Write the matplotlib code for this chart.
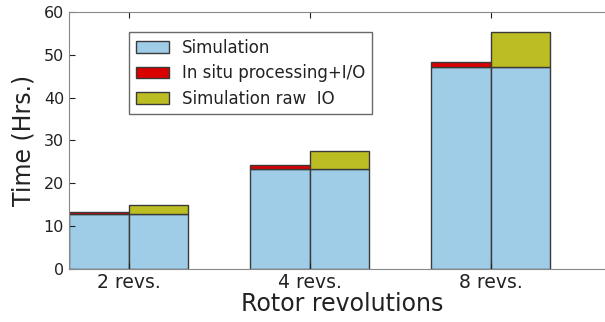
import matplotlib
matplotlib.use("Agg")
import matplotlib.pyplot as plt
import numpy as np

groups = ["2 revs.", "4 revs.", "8 revs."]
simulation = [12.9, 23.45, 47.1]
insitu = [0.4, 0.85, 1.15]
raw_io = [2.0, 4.2, 8.1]

sim_color = "#9fcde8"
insitu_color = "#d90000"
raw_color = "#bcbd22"
edge = "#3a3a3a"
text_color = "#222222"

fig = plt.figure(figsize=(6.05, 3.22), dpi=100)
ax = fig.add_axes([0.114, 0.1637, 0.9025, 0.8])

x = np.arange(len(groups))
w = 0.33

# left bar: simulation + in situ
ax.bar(x - w, simulation, w, align="edge", color=sim_color, edgecolor=edge,
       linewidth=1, label="Simulation")
ax.bar(x - w, insitu, w, bottom=simulation, align="edge", color=insitu_color,
       edgecolor=edge, linewidth=1, label="In situ processing+I/O")
# right bar: simulation + raw IO
ax.bar(x, simulation, w, align="edge", color=sim_color, edgecolor=edge, linewidth=1)
ax.bar(x, raw_io, w, bottom=simulation, align="edge", color=raw_color,
       edgecolor=edge, linewidth=1, label="Simulation raw  IO")

ax.set_xlim(-0.33, 2.687)
ax.set_ylim(0, 60)
ax.set_xticks(x)
ax.set_xticklabels(groups)
ax.set_yticks(range(0, 61, 10))
ax.tick_params(direction="in", top=True, right=True, colors=text_color, length=4)
ax.tick_params(axis="x", labelsize=13.5, pad=3)
ax.tick_params(axis="y", labelsize=11.5)
for s in ax.spines.values():
    s.set_color("#888888")

ax.set_xlabel("Rotor revolutions", fontsize=17, color=text_color, labelpad=0)
ax.set_ylabel("Time (Hrs.)", fontsize=17, color=text_color, labelpad=6)

leg = ax.legend(loc="upper left", bbox_to_anchor=(0.11, 0.921), fontsize=12,
                frameon=True, fancybox=False, borderpad=0.4, labelspacing=0.45,
                handlelength=2.0, handletextpad=0.8, borderaxespad=0)
leg.get_frame().set_edgecolor("#444444")
leg.get_frame().set_linewidth(1)
for t in leg.get_texts():
    t.set_color(text_color)

fig.savefig("out.png", dpi=100)
